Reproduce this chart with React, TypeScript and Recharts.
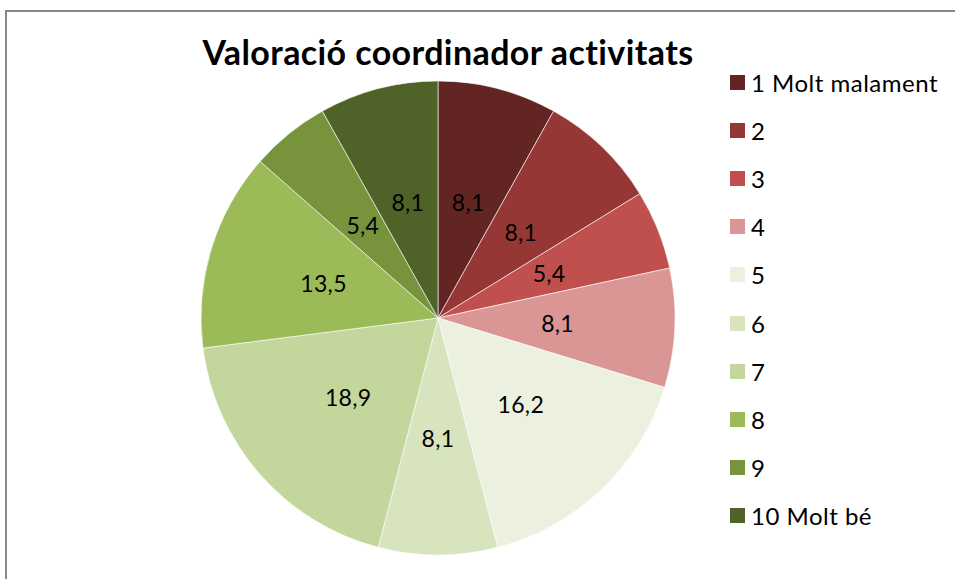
import React from 'react';
import { PieChart, Pie, Cell, Legend } from 'recharts';

const categories = ['1 Molt malament', '2', '3', '4', '5', '6', '7', '8', '9', '10 Molt bé'];
const values = [8.1, 8.1, 5.4, 8.1, 16.2, 8.1, 18.9, 13.5, 5.4, 8.1];
const colors = ['#632523', '#953735', '#C0504D', '#D99694', '#EBF1DE', '#D7E4BD', '#C3D69B', '#9BBB59', '#77933C', '#4F6228'];
const title = 'Valoració coordinador activitats';

const data = categories.map((name, i) => ({ name, value: values[i] }));

const FONT = 'Lato, "Open Sans", sans-serif';
const RAD = Math.PI / 180;

const renderLabel = (props: any) => {
  const { cx, cy, midAngle, outerRadius, value } = props;
  const r = outerRadius * 0.505;
  const x = cx + r * Math.cos(-midAngle * RAD);
  const y = cy + r * Math.sin(-midAngle * RAD);
  return (
    <text x={x} y={y} textAnchor="middle" dominantBaseline="central" fontSize={23} letterSpacing={0.3} fontFamily={FONT} fill="#000">
      {String(value).replace('.', ',')}
    </text>
  );
};

const LegendContent = () => (
  <div style={{ fontFamily: FONT }}>
    {categories.map((c, i) => (
      <div key={c} style={{ height: 48.2, display: 'flex', alignItems: 'center' }}>
        <div style={{ width: 15, height: 15, background: colors[i], marginRight: 6 }} />
        <span style={{ fontSize: 24, letterSpacing: 0.5, color: '#000' }}>{c}</span>
      </div>
    ))}
  </div>
);

export default function App() {
  return (
    <div style={{ position: 'absolute', left: 0, top: 0, width: 955, height: 579, background: '#fff', overflow: 'hidden' }}>
      <div style={{ position: 'absolute', left: 5, top: 10, width: 960, height: 600, border: '2px solid #878787', boxSizing: 'border-box' }} />
      <div style={{ position: 'absolute', left: 0, top: 29, width: 896, textAlign: 'center', fontFamily: FONT, fontWeight: 700, fontSize: 34, letterSpacing: 0.4, color: '#000', lineHeight: '46px' }}>
        {title}
      </div>
      <div style={{ position: 'absolute', left: 0, top: 0 }}>
        <PieChart width={955} height={579} margin={{ top: 0, right: 0, bottom: 0, left: 0 }}>
          <Pie
            data={data}
            dataKey="value"
            nameKey="name"
            cx={438}
            cy={318}
            outerRadius={237}
            startAngle={90}
            endAngle={-270}
            stroke="#ffffff"
            strokeWidth={0.6}
            label={renderLabel}
            labelLine={false}
            isAnimationActive={false}
          >
            {data.map((d, i) => (
              <Cell key={d.name} fill={colors[i]} />
            ))}
          </Pie>
          <Legend content={<LegendContent />} wrapperStyle={{ position: 'absolute', left: 730, top: 58, width: 225 }} />
        </PieChart>
      </div>
    </div>
  );
}
